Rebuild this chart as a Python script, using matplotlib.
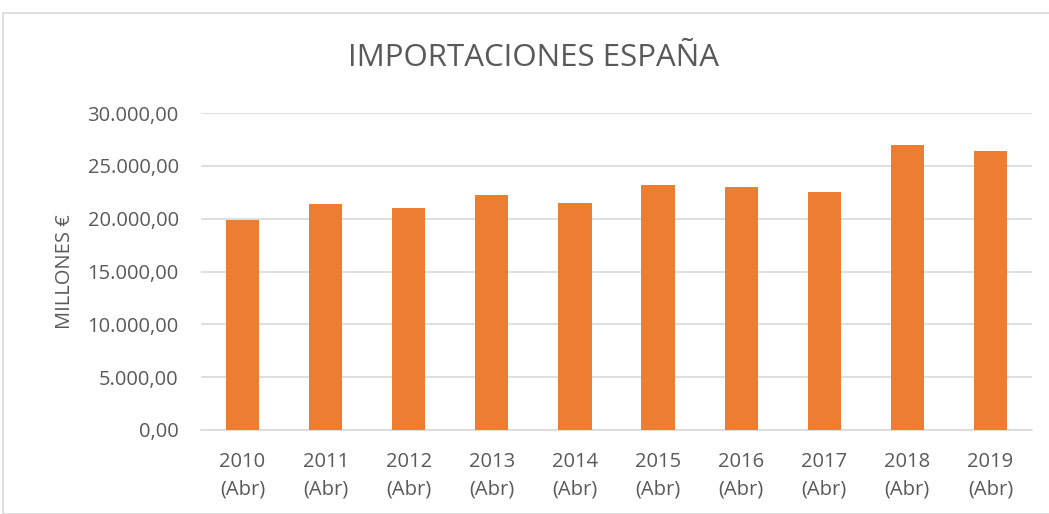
import matplotlib.pyplot as plt
from matplotlib.patches import Rectangle
from matplotlib.ticker import FuncFormatter

# data
years = ['2010', '2011', '2012', '2013', '2014', '2015', '2016', '2017', '2018', '2019']
month = '(Abr)'
imports = [19850, 21400, 21050, 22250, 21520, 23230, 22980, 22510, 26990, 26390]

plt.rcParams['font.family'] = ['Open Sans', 'DejaVu Sans']
grey = '#595959'

fig = plt.figure(figsize=(10.49, 5.14), dpi=100)
# chart border
fig.patches.append(Rectangle((3 / 1049, 0), 1, 1 - 13 / 514, transform=fig.transFigure,
                             fill=False, edgecolor='#d9d9d9', linewidth=1.2))

ax = fig.add_axes([201 / 1049, 1 - 430 / 514, 831 / 1049, 317 / 514])
labels = [y + '\n' + month for y in years]
x = range(len(years))
ax.bar(x, imports, width=0.4, color='#ed7d31', zorder=3)

ax.set_xlim(-0.5, len(years) - 0.5)
ax.set_ylim(0, 30000)
ax.set_yticks(range(0, 30001, 5000))
ax.yaxis.set_major_formatter(FuncFormatter(
    lambda v, p: '{:,.2f}'.format(v).replace(',', 'X').replace('.', ',').replace('X', '.')))
ax.set_xticks(list(x))
ax.set_xticklabels(labels, linespacing=1.5)
ax.grid(axis='y', color='#d9d9d9', linewidth=1.2, zorder=0)
for s in ['top', 'right', 'left']:
    ax.spines[s].set_visible(False)
ax.spines['bottom'].set_color('#d9d9d9')
ax.spines['bottom'].set_linewidth(1.2)
ax.tick_params(length=0, colors=grey, labelsize=14.5)
ax.tick_params(axis='y', pad=16)
ax.tick_params(axis='x', pad=16)

ax.set_ylabel('MILLONES €', fontsize=14.5, color=grey, labelpad=9)
fig.text(533 / 1049, 1 - 58 / 514, 'IMPORTACIONES ESPAÑA', ha='center', va='center',
         fontsize=22.5, color=grey)

fig.savefig('out.png', dpi=100)
